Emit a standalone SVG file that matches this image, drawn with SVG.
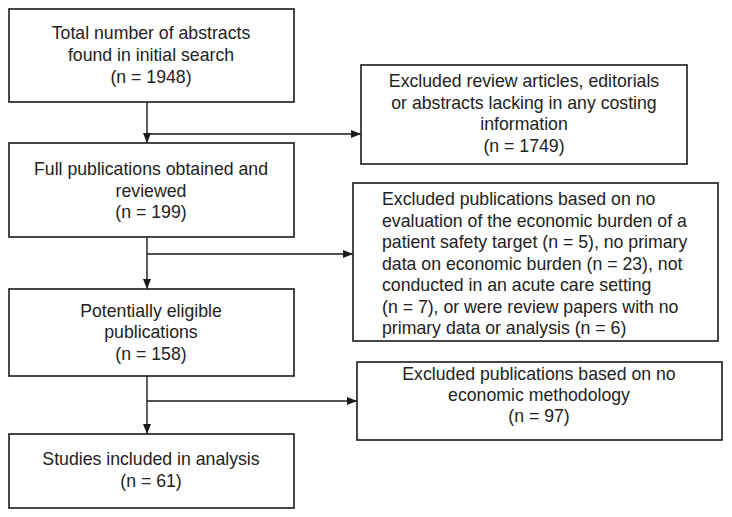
<svg xmlns="http://www.w3.org/2000/svg" width="732" height="517" viewBox="0 0 732 517">
<style>
.box{fill:#fff;stroke:#1a1a1a;stroke-width:1.6}
.t{font-family:"Liberation Sans",Arial,sans-serif;font-size:17.7px;fill:#222}
.c{text-anchor:middle}
.ln{fill:none;stroke:#1a1a1a;stroke-width:1.4}
</style>
<defs>
<marker id="ah" markerWidth="10" markerHeight="8" refX="10" refY="4" orient="auto" markerUnits="userSpaceOnUse">
<path d="M0,0 L10,4 L0,8 Z" fill="#1a1a1a"/>
</marker>
</defs>
<rect width="732" height="517" fill="#fff"/>
<g id="connectors">
<line class="ln" x1="147" y1="102" x2="147" y2="143" marker-end="url(#ah)"/>
<line class="ln" x1="147" y1="134" x2="361" y2="134" marker-end="url(#ah)"/>
<line class="ln" x1="147" y1="237" x2="147" y2="289" marker-end="url(#ah)"/>
<line class="ln" x1="147" y1="254" x2="353" y2="254" marker-end="url(#ah)"/>
<line class="ln" x1="147" y1="376" x2="147" y2="434" marker-end="url(#ah)"/>
<line class="ln" x1="147" y1="401" x2="357" y2="401" marker-end="url(#ah)"/>
</g>
<g id="n1">
<rect class="box" x="9" y="9" width="285" height="93"/>
<text class="t c" x="151" y="39">Total number of abstracts</text>
<text class="t c" x="151" y="61">found in initial search</text>
<text class="t c" x="151" y="83">(n = 1948)</text>
</g>
<g id="n2">
<rect class="box" x="9" y="143" width="285" height="94"/>
<text class="t c" x="151" y="175">Full publications obtained and</text>
<text class="t c" x="151" y="196.5">reviewed</text>
<text class="t c" x="151" y="218">(n = 199)</text>
</g>
<g id="n3">
<rect class="box" x="9" y="289" width="285" height="87"/>
<text class="t c" x="151" y="317">Potentially eligible</text>
<text class="t c" x="151" y="338">publications</text>
<text class="t c" x="151" y="359.5">(n = 158)</text>
</g>
<g id="n4">
<rect class="box" x="9" y="434" width="285" height="74"/>
<text class="t c" x="151" y="465">Studies included in analysis</text>
<text class="t c" x="151" y="487">(n = 61)</text>
</g>
<g id="e1">
<rect class="box" x="361" y="65" width="326" height="99"/>
<text class="t c" x="524" y="87">Excluded review articles, editorials</text>
<text class="t c" x="524" y="108.5">or abstracts lacking in any costing</text>
<text class="t c" x="524" y="130">information</text>
<text class="t c" x="524" y="151.5">(n = 1749)</text>
</g>
<g id="e2">
<rect class="box" x="353" y="183" width="365" height="158"/>
<text class="t" x="382" y="205">Excluded publications based on no</text>
<text class="t" x="382" y="226.5">evaluation of the economic burden of a</text>
<text class="t" x="382" y="248">patient safety target (n = 5), no primary</text>
<text class="t" x="382" y="269.5">data on economic burden (n = 23), not</text>
<text class="t" x="382" y="291">conducted in an acute care setting</text>
<text class="t" x="382" y="312.5">(n = 7), or were review papers with no</text>
<text class="t" x="382" y="334">primary data or analysis (n = 6)</text>
</g>
<g id="e3">
<rect class="box" x="357" y="362" width="365" height="78"/>
<text class="t c" x="539" y="380">Excluded publications based on no</text>
<text class="t c" x="539" y="401">economic methodology</text>
<text class="t c" x="539" y="422">(n = 97)</text>
</g>
</svg>
